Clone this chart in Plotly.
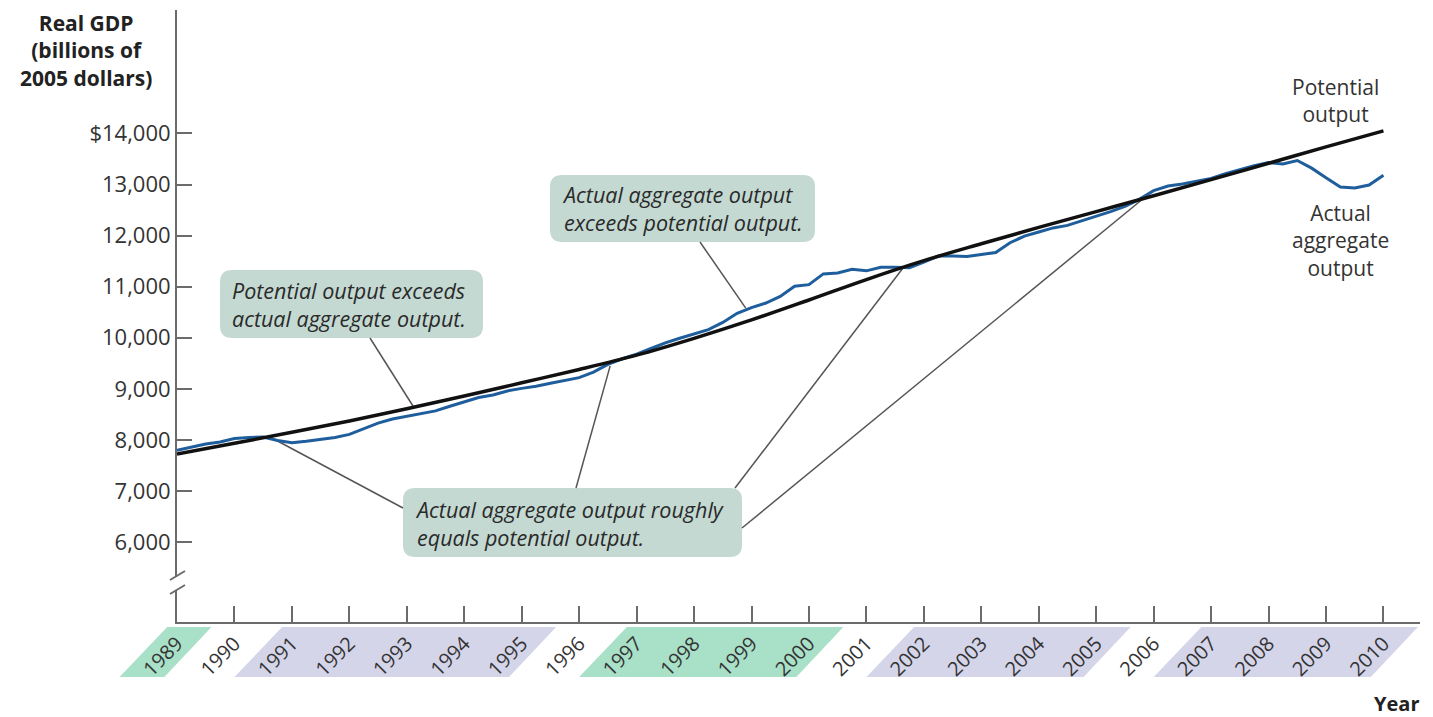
import plotly.graph_objects as go

# ---- data -------------------------------------------------------------
potential_years = list(range(1989, 2011))
potential_gdp = [7725, 7935, 8150, 8370, 8610, 8860, 9120, 9380, 9660, 9990,
                 10350, 10740, 11140, 11510, 11840, 12160, 12470, 12780,
                 13095, 13415, 13735, 14050]

actual_years = [1989 + q / 4 for q in range(0, 85)]
actual_gdp = [7800, 7860, 7920, 7960, 8030, 8050, 8060, 7990,
              7945, 7975, 8010, 8050, 8110, 8220, 8330, 8410,
              8460, 8510, 8570, 8660, 8750, 8830, 8880, 8960,
              9010, 9050, 9110, 9170, 9220, 9330, 9480, 9590,
              9680, 9790, 9900, 9990, 10080, 10160, 10300, 10480,
              10590, 10680, 10810, 11010, 11040, 11250, 11270, 11340,
              11310, 11380, 11380, 11370, 11480, 11600, 11600, 11590,
              11630, 11670, 11860, 11990, 12070, 12150, 12200, 12290,
              12370, 12470, 12570, 12710, 12880, 12970, 13010, 13060,
              13120, 13210, 13290, 13370, 13430, 13400, 13470, 13320,
              13130, 12950, 12930, 12990, 13180]

y_ticks = [6000, 7000, 8000, 9000, 10000, 11000, 12000, 13000, 14000]
y_tick_labels = ["6,000", "7,000", "8,000", "9,000", "10,000", "11,000",
                 "12,000", "13,000", "$14,000"]
x_ticks = list(range(1989, 2011))
x_tick_labels = [str(y) for y in x_ticks]

# shaded year bands under the axis: (first year, last year, colour)
bands = [(1989, 1989, "#a9e0c8"), (1991, 1995, "#d5d5ea"),
         (1997, 2000, "#a9e0c8"), (2002, 2005, "#d5d5ea"),
         (2007, 2010, "#d5d5ea")]

# ---- geometry ---------------------------------------------------------
W, H = 1433, 717
ML, MR, MT, MB = 177, 13, 10, 95
PW, PH = W - ML - MR, H - MT - MB
X0 = 1989
X1 = X0 + PW / 57.45
Y0, Y1 = 4438, 16415
FONT = "Open Sans"
BOX = "#c4d9d2"


def px(x):
    return (x - ML) / PW


def py(y):
    return (H - MB - y) / PH


def xp(year):
    return (year - X0) / (X1 - X0)


def rounded_box(x0, y0, x1, y1, r=12):
    a0, a1 = px(x0), px(x1)
    b0, b1 = py(y1), py(y0)
    rx, ry = r / PW, r / PH
    p = (f"M{a0+rx},{b0} L{a1-rx},{b0} Q{a1},{b0} {a1},{b0+ry} "
         f"L{a1},{b1-ry} Q{a1},{b1} {a1-rx},{b1} L{a0+rx},{b1} "
         f"Q{a0},{b1} {a0},{b1-ry} L{a0},{b0+ry} Q{a0},{b0} {a0+rx},{b0} Z")
    return dict(type="path", path=p, xref="paper", yref="paper",
                fillcolor=BOX, line=dict(width=0), layer="below")


fig = go.Figure()
fig.add_trace(go.Scatter(x=actual_years, y=actual_gdp, mode="lines",
                         line=dict(color="#1f5e9c", width=3),
                         hoverinfo="skip"))
fig.add_trace(go.Scatter(x=potential_years, y=potential_gdp, mode="lines",
                         line=dict(color="#111111", width=3.5,
                                   shape="spline", smoothing=1.0),
                         hoverinfo="skip"))

shapes = []
# year bands (parallelograms)
btop, bbot = py(627), py(677)
for a, b, col in bands:
    p = (f"M{xp(a-0.17)},{btop} L{xp(b+0.6)},{btop} "
         f"L{xp(b-0.22)},{bbot} L{xp(a-1.0)},{bbot} Z")
    shapes.append(dict(type="path", path=p, xref="paper", yref="paper",
                       fillcolor=col, line=dict(width=0), layer="below"))

# callout boxes
shapes.append(rounded_box(220, 270, 483, 338))
shapes.append(rounded_box(550, 175, 815, 242))
shapes.append(rounded_box(403, 488, 742, 557))

# pointer lines (box edge -> curve)
pointers = [((370, 338), (1993.11, 8660)),
            ((700, 242), (1998.9, 10580)),
            ((403, 508), (1990.62, 8059)),
            ((576, 488), (1996.54, 9450)),
            ((735, 488), (2001.64, 11370)),
            ((742, 528), (2005.9, 12800))]
for (sx, sy), (ex, ey) in pointers:
    x_start = X0 + (sx - ML) / 57.45
    y_start = Y0 + (H - MB - sy) / PH * (Y1 - Y0)
    shapes.append(dict(type="line", xref="x", yref="y",
                       x0=x_start, y0=y_start, x1=ex, y1=ey,
                       line=dict(color="#555555", width=1.5),
                       layer="below"))

# axis break on the vertical axis
shapes.append(dict(type="rect", xref="paper", yref="paper",
                   x0=px(171), x1=px(184), y0=py(591), y1=py(577),
                   fillcolor="white", line=dict(width=0)))
for yb in (580, 594):
    shapes.append(dict(type="line", xref="paper", yref="paper",
                       x0=px(170), y0=py(yb), x1=px(185), y1=py(yb - 9),
                       line=dict(color="#6b6b6b", width=2)))

annotations = [
    dict(text="<b>Real GDP<br>(billions of<br>2005 dollars)</b>",
         xref="paper", yref="paper", x=px(86), y=py(7), xanchor="center",
         yanchor="top", showarrow=False, align="center",
         font=dict(size=21, color="#222")),
    dict(text="<b>Year</b>", xref="paper", yref="paper", x=px(1421),
         y=py(703), xanchor="right", yanchor="middle", showarrow=False,
         font=dict(size=20, color="#222")),
    dict(text="Potential<br>output", xref="paper", yref="paper",
         x=px(1335), y=py(100), xanchor="center", yanchor="middle",
         showarrow=False, align="center", font=dict(size=21, color="#333")),
    dict(text="Actual<br>aggregate<br>output", xref="paper", yref="paper",
         x=px(1340), y=py(240), xanchor="center", yanchor="middle",
         showarrow=False, align="center", font=dict(size=21, color="#333")),
    dict(text="<i>Potential output exceeds<br>actual aggregate output.</i>",
         xref="paper", yref="paper", x=px(230), y=py(304), xanchor="left",
         yanchor="middle", showarrow=False, align="left",
         font=dict(size=21.5, color="#2a2a2a")),
    dict(text="<i>Actual aggregate output<br>exceeds potential output.</i>",
         xref="paper", yref="paper", x=px(560), y=py(209), xanchor="left",
         yanchor="middle", showarrow=False, align="left",
         font=dict(size=21.5, color="#2a2a2a")),
    dict(text="<i>Actual aggregate output roughly<br>equals potential output.</i>",
         xref="paper", yref="paper", x=px(413), y=py(523), xanchor="left",
         yanchor="middle", showarrow=False, align="left",
         font=dict(size=21.5, color="#2a2a2a")),
]

fig.update_layout(
    width=W, height=H,
    margin=dict(l=ML, r=MR, t=MT, b=MB),
    paper_bgcolor="white", plot_bgcolor="white",
    showlegend=False,
    font=dict(family=FONT, color="#333"),
    shapes=shapes, annotations=annotations,
    xaxis=dict(range=[X0, X1], tickvals=x_ticks, ticktext=x_tick_labels,
               tickangle=-45, ticks="inside", ticklen=16, tickwidth=2,
               tickcolor="#6b6b6b", showline=True, linecolor="#6b6b6b",
               linewidth=2, showgrid=False, zeroline=False,
               tickfont=dict(size=20, color="#333")),
    yaxis=dict(range=[Y0, Y1], tickvals=y_ticks, ticktext=y_tick_labels,
               ticks="inside", ticklen=15, tickwidth=2, tickcolor="#6b6b6b",
               showline=True, linecolor="#6b6b6b", linewidth=2,
               showgrid=False, zeroline=False,
               tickfont=dict(size=22, color="#333")),
)

fig.write_html("out.html")
